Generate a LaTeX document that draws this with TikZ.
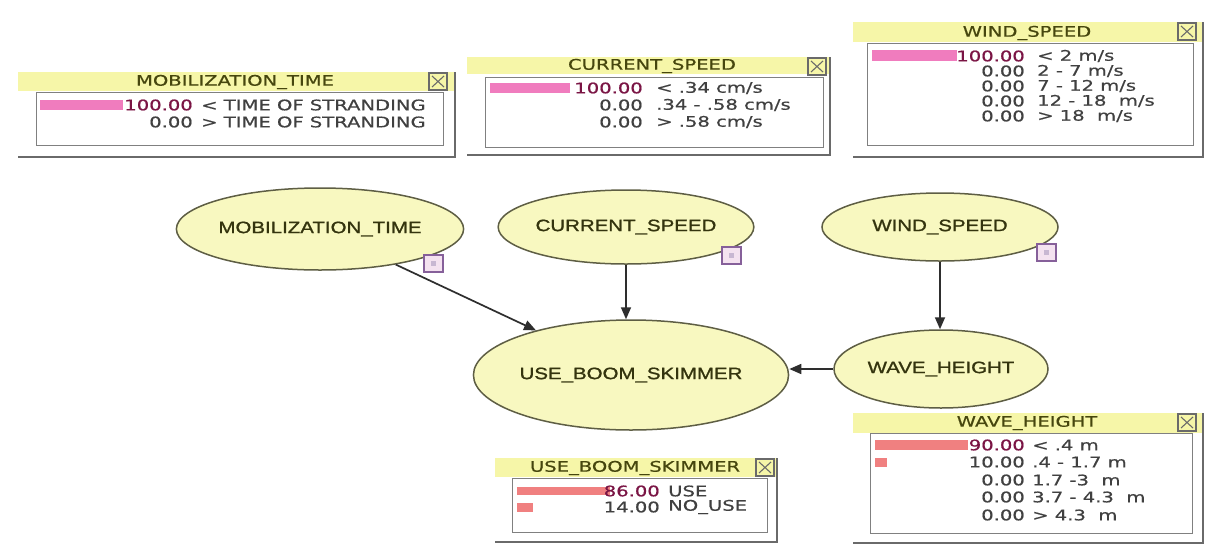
\documentclass[tikz,border=0pt]{standalone}
\usepackage{fontspec}
\usetikzlibrary{shapes.geometric,arrows.meta}
\newfontfamily\monfont[FakeStretch=1.34,FakeBold=0.6]{DejaVu Sans}
\newfontfamily\nodefont[FakeStretch=1.24,FakeBold=1.2]{Liberation Sans}
\definecolor{ellfill}{HTML}{F8F8C0}
\definecolor{ellline}{HTML}{5E5E44}
\definecolor{nodetext}{HTML}{34340E}
\definecolor{bandfill}{HTML}{F6F6A8}
\definecolor{titletext}{HTML}{46460E}
\definecolor{rowtext}{HTML}{404040}
\definecolor{hitext}{HTML}{7A1444}
\definecolor{pinkbar}{HTML}{F07CBE}
\definecolor{redbar}{HTML}{F08080}
\definecolor{framegray}{HTML}{6A6A6A}
\definecolor{panelgray}{HTML}{808080}
\definecolor{iconpen}{HTML}{86609A}
\definecolor{iconfill}{HTML}{F4E2F0}
\definecolor{edgegray}{HTML}{2E2E2E}

\tikzset{
  bn/.style={ellipse, draw=ellline, line width=1.5pt, fill=ellfill, inner sep=0pt,
    font=\nodefont\fontsize{16.5}{18}\selectfont, text=nodetext},
  link/.style={draw=edgegray, line width=1.7pt, -{Triangle[length=12pt,width=10pt]}},
  band/.style={fill=bandfill},
  panel/.style={draw=panelgray, line width=1pt, fill=white},
  frameline/.style={draw=framegray, line width=1.8pt},
  ttl/.style={font=\monfont\fontsize{14.6}{16}\selectfont, text=titletext, inner sep=0pt},
  rowt/.style={font=\monfont\fontsize{14.6}{16}\selectfont, text=rowtext, inner sep=0pt},
  closebox/.style={draw=framegray, line width=1.1pt},
  nodeicon/.style={draw=iconpen, line width=1.2pt, fill=iconfill},
}

% window frame: left, top, right, bottom of title band, bottom of frame, close-icon left
\newcommand\monframe[6]{%
  \fill[band] (#1,#2) rectangle (#3,#4);
  \draw[frameline] (#3,#2) -- (#3,#5) -- (#1,#5);
  \draw[closebox] (#6,#2+1) rectangle ++(18,17);
  \draw[closebox] (#6+3,#2+4) -- ++(12,11) (#6+3,#2+15) -- ++(12,-11);
}
% one state row: name, y, right edge of value, left edge of label, value, label, value colour
\newcommand\monrow[7]{%
  \node[rowt, text=#7, anchor=east] (#1v) at (#3,#2) {#5};
  \node[rowt, anchor=west] (#1s) at (#4,#2) {#6};
}
% small square badge beside a network node
\newcommand\badge[2]{%
  \draw[nodeicon] (#1,#2) rectangle ++(19,17);
  \fill[iconpen!45] (#1+7,#2+6) rectangle ++(5,5);
}

\begin{document}
\begin{tikzpicture}[x=1pt,y=-1pt]
\useasboundingbox[fill=white] (0,0) rectangle (1208,555);

% ---------- MOBILIZATION_TIME window
\monframe{18}{72}{455}{91}{157}{429}
\draw[panel] (36,92) rectangle (443,145);
\node[ttl] (tmob) at (235,82) {MOBILIZATION\_TIME};
\fill[pinkbar] (40,100) rectangle (123,110);
\monrow{mobA}{105}{193}{201}{100.00}{< TIME OF STRANDING}{hitext}
\monrow{mobB}{122}{193}{201}{0.00}{> TIME OF STRANDING}{rowtext}

% ---------- CURRENT_SPEED window
\monframe{467}{57}{830}{74}{155}{808}
\draw[panel] (485,77) rectangle (823,147);
\node[ttl] (tcur) at (652,66) {CURRENT\_SPEED};
\fill[pinkbar] (490,83) rectangle (570,93);
\monrow{curA}{88}{643}{656}{100.00}{< .34 cm/s}{hitext}
\monrow{curB}{105}{643}{656}{0.00}{.34 - .58 cm/s}{rowtext}
\monrow{curC}{122}{643}{656}{0.00}{> .58 cm/s}{rowtext}

% ---------- WIND_SPEED window
\monframe{853}{22}{1203}{42}{157}{1178}
\draw[panel] (867,43) rectangle (1193,145);
\node[ttl] (twind) at (1027,33) {WIND\_SPEED};
\fill[pinkbar] (872,50) rectangle (957,61);
\monrow{windA}{56}{1025}{1037}{100.00}{< 2 m/s}{hitext}
\monrow{windB}{71}{1025}{1037}{0.00}{2 - 7 m/s}{rowtext}
\monrow{windC}{86}{1025}{1037}{0.00}{7 - 12 m/s}{rowtext}
\monrow{windD}{101}{1025}{1037}{0.00}{12 - 18\ \ m/s}{rowtext}
\monrow{windE}{116}{1025}{1037}{0.00}{> 18\ \ m/s}{rowtext}

% ---------- WAVE_HEIGHT window
\monframe{853}{413}{1203}{433}{543}{1178}
\draw[panel] (870,433) rectangle (1192,533);
\node[ttl] (twave) at (1027,423) {WAVE\_HEIGHT};
\fill[redbar] (875,440) rectangle (968,450);
\fill[redbar] (875,458) rectangle (887,467);
\monrow{waveA}{445}{1025}{1032}{90.00}{< .4 m}{hitext}
\monrow{waveB}{462}{1025}{1032}{10.00}{.4 - 1.7 m}{rowtext}
\monrow{waveC}{480}{1025}{1032}{0.00}{1.7 -3\ \ m}{rowtext}
\monrow{waveD}{497}{1025}{1032}{0.00}{3.7 - 4.3\ \ m}{rowtext}
\monrow{waveE}{515}{1025}{1032}{0.00}{> 4.3\ \ m}{rowtext}

% ---------- USE_BOOM_SKIMMER window
\monframe{495}{458}{777}{477}{542}{756}
\draw[panel] (512,478) rectangle (767,532);
\node[ttl] (tuse) at (635,468) {USE\_BOOM\_SKIMMER};
\fill[redbar] (517,487) rectangle (610,495);
\fill[redbar] (517,503) rectangle (533,512);
\monrow{useA}{491}{660}{668}{86.00}{USE}{hitext}
\monrow{useB}{507}{660}{668}{14.00}{NO\_USE}{rowtext}

% ---------- network nodes
\node[bn, minimum width=254pt, minimum height=82pt] (mob)  at (320,229) {MOBILIZATION\_TIME};
\node[bn, minimum width=236pt, minimum height=74pt] (cur)  at (626,227) {CURRENT\_SPEED};
\node[bn, minimum width=236pt, minimum height=68pt] (wind) at (940,227) {WIND\_SPEED};
\node[bn, minimum width=272pt, minimum height=110pt] (use) at (631,375) {USE\_BOOM\_SKIMMER};
\node[bn, minimum width=214pt, minimum height=78pt] (wave) at (941,369) {WAVE\_HEIGHT};

\badge{424}{255}
\badge{722}{247}
\badge{1037}{244}

% ---------- links
\draw[link] (mob) -- (use);
\draw[link] (cur.south) -- (cur.south |- use.north);
\draw[link] (wind.south) -- (wind.south |- wave.north);
\draw[link] (wave.west) -- (wave.west -| use.east);
\end{tikzpicture}
\end{document}
